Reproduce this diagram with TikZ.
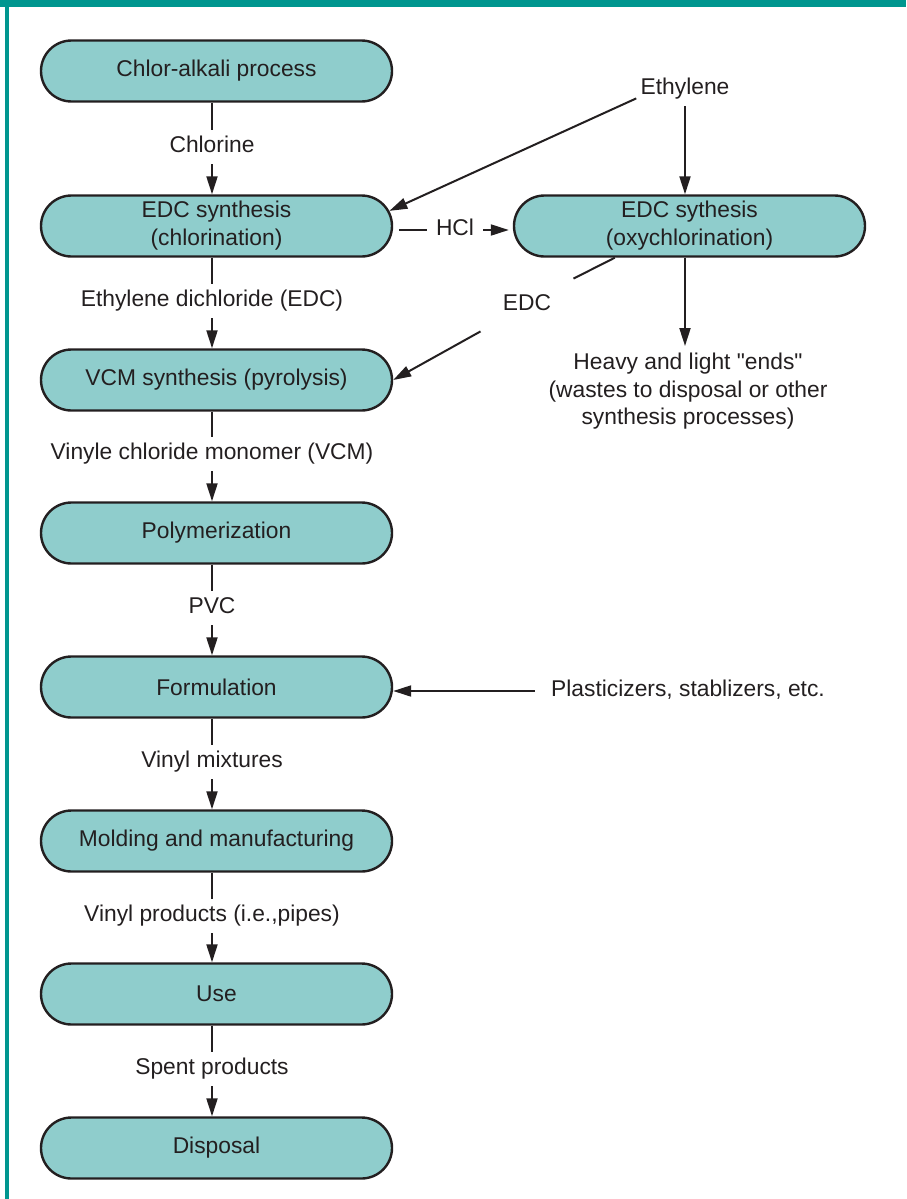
\documentclass[tikz,border=0pt]{standalone}
\usepackage{fontspec}
\setmainfont{Liberation Sans}[Ligatures=TeXOff]
\usepackage{xcolor}
\usetikzlibrary{shapes.misc,arrows.meta}

\definecolor{boxfill}{RGB}{143,205,204}
\definecolor{frameteal}{RGB}{0,150,143}
\definecolor{inkgray}{RGB}{35,31,32}

\tikzset{
  stage/.style={rounded rectangle, draw=inkgray, line width=1.2pt, fill=boxfill,
    minimum width=179.5pt, minimum height=30.5pt, inner sep=2pt, align=center,
    text=inkgray, font=\fontsize{11.4}{14}\selectfont},
  flowlabel/.style={text=inkgray, font=\fontsize{11.4}{14}\selectfont,
    inner xsep=2pt, inner ysep=3.25pt, text height=8pt, text depth=2.5pt},
  note/.style={text=inkgray, font=\fontsize{11.4}{13.75}\selectfont, align=center},
  link/.style={draw=inkgray, line width=1pt},
  flow/.style={draw=inkgray, line width=1pt, -{Triangle[length=9pt,width=5.5pt]}},
}

\begin{document}
\begin{tikzpicture}[x=0.5pt,y=-0.5pt]
\useasboundingbox (0,0) rectangle (906,1199);
\fill[frameteal] (0,0) rectangle (906,6.5);
\fill[frameteal] (5,0) rectangle (9,1199);

% main chain
\node[stage] (chlor) at (216.5,71) {Chlor-alkali process};
\node[stage] (edcl) at (216.5,226) {EDC synthesis\\(chlorination)};
\node[stage] (vcm) at (216.5,380) {VCM synthesis (pyrolysis)};
\node[stage] (poly) at (216.5,533) {Polymerization};
\node[stage] (form) at (216.5,687) {Formulation};
\node[stage] (mold) at (216.5,841) {Molding and manufacturing};
\node[stage] (use) at (216.5,994) {Use};
\node[stage] (disp) at (216.5,1148) {Disposal};
\node[stage] (edcr) at (689.5,226) {EDC sythesis\\(oxychlorination)};

% flow labels
\node[flowlabel] (chl) at (212,147) {Chlorine};
\node[flowlabel] (edc) at (212,301) {Ethylene dichloride (EDC)};
\node[flowlabel] (vcml) at (212,454) {Vinyle chloride monomer (VCM)};
\node[flowlabel] (pvc) at (212,608) {PVC};
\node[flowlabel] (mix) at (212,762) {Vinyl mixtures};
\node[flowlabel] (prod) at (212,916) {Vinyl products (i.e.,pipes)};
\node[flowlabel] (spent) at (212,1069) {Spent products};

\foreach \a/\l/\b in {chlor/chl/edcl, edcl/edc/vcm, vcm/vcml/poly, poly/pvc/form,
    form/mix/mold, mold/prod/use, use/spent/disp} {
  \draw[link] (\l.north |- \a.south) -- (\l.north);
  \draw[flow] (\l.south) -- (\l.south |- \b.north);
}

% side inputs and outputs
\node[flowlabel] (eth) at (685,89) {Ethylene};
\node[flowlabel, inner xsep=4.5pt] (hcl) at (455,230) {HCl};
\node[flowlabel, inner xsep=11pt, inner ysep=7.75pt] (edcx) at (527,305) {EDC};
\node[note, anchor=north] (heavy) at (688,346) {Heavy and light "ends"\\(wastes to disposal or other\\synthesis processes)};
\node[flowlabel, inner xsep=8pt] (plast) at (688,691) {Plasticizers, stablizers, etc.};

\draw[flow] ([yshift=4pt]eth.south west) -- (edcl.5);
\draw[flow] (eth.south) -- (eth.south |- edcr.north);
\draw[link, shorten >=3pt] (hcl.west) -- (hcl.west -| edcl.east);
\draw[flow, shorten >=2pt] (hcl.east) -- (hcl.east -| edcr.west);
\draw[link] (edcr.203) -- (edcx.north east);
\draw[flow] (edcx.south west) -- (vcm.east);
\draw[flow] (edcr.south -| eth.south) -- (heavy.north -| eth.south);
\draw[flow] (plast.west) -- (plast.west -| form.east);
\end{tikzpicture}
\end{document}
